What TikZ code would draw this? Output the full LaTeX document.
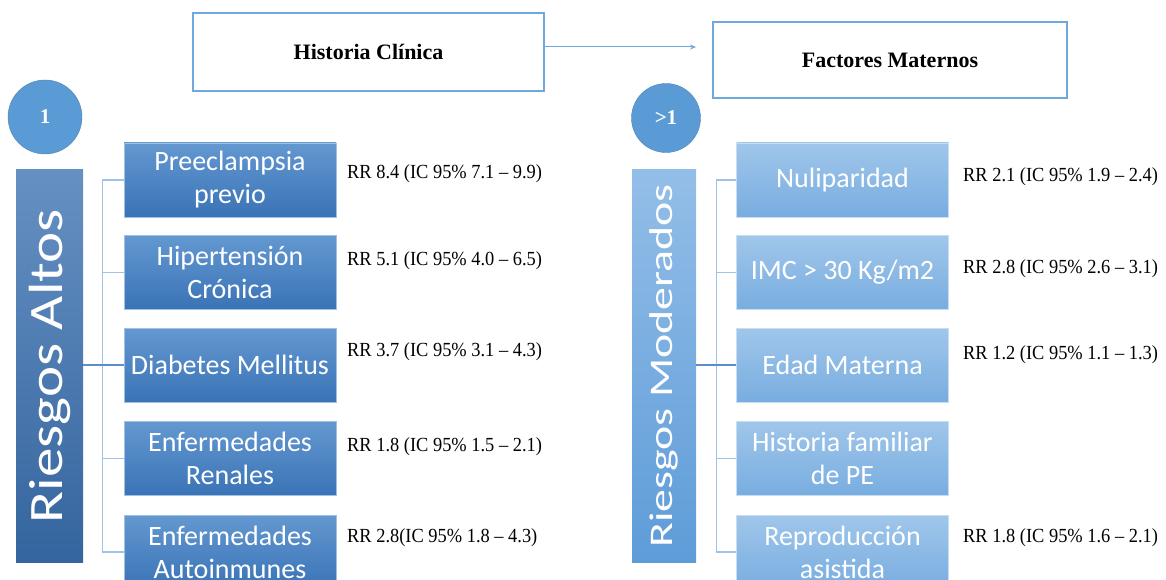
\documentclass[tikz,border=0pt]{standalone}
\usepackage{fontspec}
\setmainfont{Liberation Serif}
\newfontfamily\boxfont{Carlito}
\usepackage{tikz}
\usetikzlibrary{arrows.meta}
\definecolor{altotop}{HTML}{6398D0}
\definecolor{altobot}{HTML}{3A73B6}
\definecolor{altobartop}{HTML}{6590C2}
\definecolor{altobarbot}{HTML}{35659E}
\definecolor{modtop}{HTML}{A0C6EA}
\definecolor{modbot}{HTML}{78ADE0}
\definecolor{modbartop}{HTML}{93BEE8}
\definecolor{modbarbot}{HTML}{5E9CD8}
\definecolor{bolablue}{HTML}{5B9BD5}
\definecolor{headline}{HTML}{6FA8DC}
\definecolor{treeline}{HTML}{9DC3E6}
\definecolor{mainline}{HTML}{5B8FCB}

\begin{document}
\begin{tikzpicture}[x=1pt,y=-1pt,
  altobox/.style={minimum width=212pt,minimum height=74pt,inner sep=0pt,align=center,
    top color=altotop,bottom color=altobot,draw=altotop!60!white,text=white,
    font=\boxfont\fontsize{28}{33}\selectfont},
  modbox/.style={altobox,top color=modtop,bottom color=modbot,draw=modtop!60!white},
  headbox/.style={draw=headline,line width=1.5pt,inner sep=0pt,
    font=\bfseries\fontsize{22}{26}\selectfont},
  bola/.style={circle,fill=bolablue,draw=bolablue!85!black,text=white,inner sep=0pt,
    font=\bfseries\fontsize{21}{24}\selectfont},
  rr/.style={anchor=west,inner sep=0pt,font=\fontsize{20}{24}\selectfont},
  tree/.style={treeline,line width=1.2pt}]
\useasboundingbox (0,0) rectangle (1166,580);
\clip (0,0) rectangle (1166,580);

% cabecera
\node[headbox,minimum width=351pt,minimum height=78pt] (hist) at (368.5,52) {Historia Clínica};
\node[headbox,minimum width=354pt,minimum height=76pt] (fact) at (890,60) {Factores Maternos};
\coordinate (tip) at (696,47);
\draw[headline,line width=1pt,-{Stealth[length=6pt,width=5pt]}] ([yshift=5pt]hist.east) -- (tip);

% riesgos altos
\node[bola,minimum size=74pt] (uno) at (45,117) {1};
\node[minimum width=67pt,minimum height=392pt,inner sep=0pt,top color=altobartop,bottom color=altobarbot,
  text=white,font=\boxfont\fontsize{48}{50}\selectfont] (altos) at (49.5,366)
  {\rotatebox{90}{\scalebox{1.23}[1]{Riesgos Altos}}};
\node[altobox] (pre) at (230,180) {Preeclampsia\\previo};
\node[altobox] (hip) at (230,272.5) {Hipertensión\\Crónica};
\node[altobox] (dia) at (230,365) {Diabetes Mellitus};
\node[altobox] (ren) at (230,458.5) {Enfermedades\\Renales};
\node[altobox] (aut) at (230,552) {Enfermedades\\Autoinmunes};
\draw[tree] (pre.west) -- ++(-21,0) |- (aut.west);
\draw[tree] (hip.west) -- ++(-21,0);
\draw[tree] (ren.west) -- ++(-21,0);
\draw[mainline,line width=1.2pt] (altos.east |- dia.west) -- (dia.west);
\node[rr] (rrpre) at (347,174) {\scalebox{0.92}[1]{RR 8.4 (IC 95\% 7.1 -- 9.9)}};
\node[rr] (rrhip) at (347,261) {\scalebox{0.92}[1]{RR 5.1 (IC 95\% 4.0 -- 6.5)}};
\node[rr] (rrdia) at (347,352) {\scalebox{0.92}[1]{RR 3.7 (IC 95\% 3.1 -- 4.3)}};
\node[rr] (rrren) at (347,447) {\scalebox{0.92}[1]{RR 1.8 (IC 95\% 1.5 -- 2.1)}};
\node[rr] (rraut) at (347,538) {\scalebox{0.92}[1]{RR 2.8(IC 95\% 1.8 -- 4.3)}};

% riesgos moderados
\node[bola,minimum size=69pt] (masuno) at (666,118) {>1};
\node[minimum width=64pt,minimum height=392pt,inner sep=0pt,top color=modbartop,bottom color=modbarbot,
  text=white,font=\boxfont\fontsize{33}{35}\selectfont] (moder) at (664,366)
  {\rotatebox{90}{\scalebox{1.39}[1]{Riesgos Moderados}}};
\node[modbox] (nul) at (842.5,180) {Nuliparidad};
\node[modbox] (imc) at (842.5,272.5) {IMC > 30 Kg/m2};
\node[modbox] (eda) at (842.5,365) {Edad Materna};
\node[modbox] (fam) at (842.5,458.5) {Historia familiar\\de PE};
\node[modbox] (rep) at (842.5,552) {Reproducción\\asistida};
\draw[tree] (nul.west) -- ++(-20,0) |- (rep.west);
\draw[tree] (imc.west) -- ++(-20,0);
\draw[tree] (fam.west) -- ++(-20,0);
\draw[mainline,line width=1.2pt] (moder.east |- eda.west) -- (eda.west);
\node[rr] (rrnul) at (963,177) {\scalebox{0.92}[1]{RR 2.1 (IC 95\% 1.9 -- 2.4)}};
\node[rr] (rrimc) at (963,269) {\scalebox{0.92}[1]{RR 2.8 (IC 95\% 2.6 -- 3.1)}};
\node[rr] (rreda) at (963,355) {\scalebox{0.92}[1]{RR 1.2 (IC 95\% 1.1 -- 1.3)}};
\node[rr] (rrrep) at (963,538) {\scalebox{0.92}[1]{RR 1.8 (IC 95\% 1.6 -- 2.1)}};
\end{tikzpicture}
\end{document}
